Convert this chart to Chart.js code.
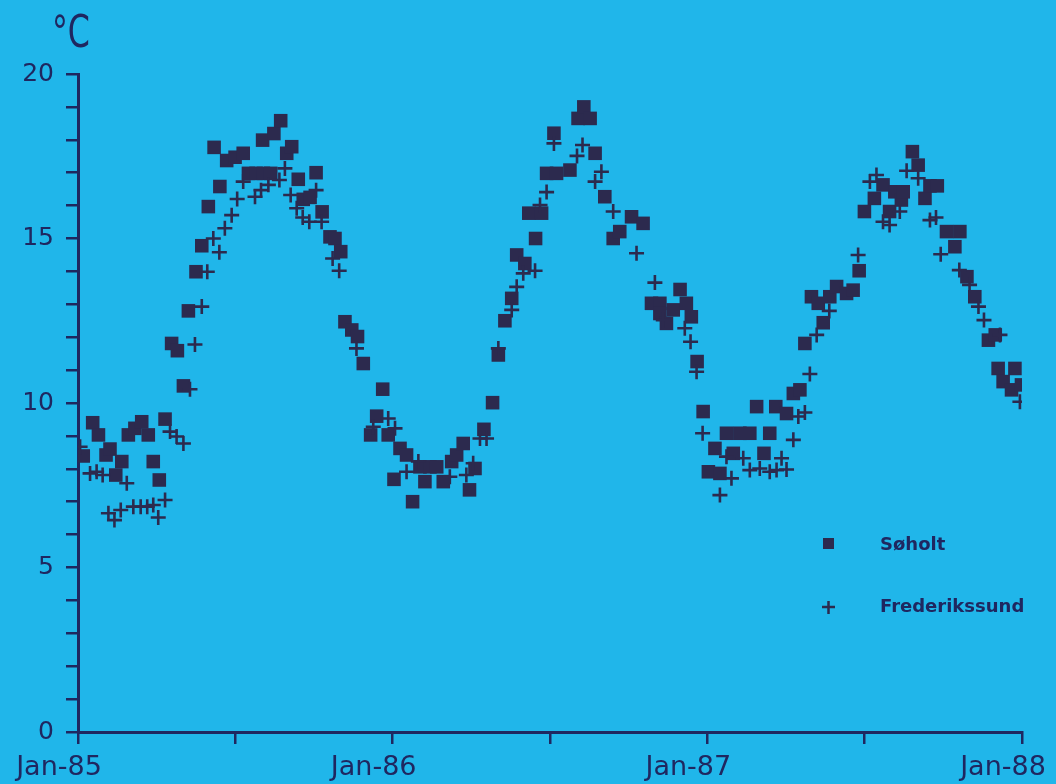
<!DOCTYPE html>
<html>
<head>
<meta charset="utf-8">
<script src="https://cdn.jsdelivr.net/npm/chart.js@4/dist/chart.umd.min.js"></script>
<style>
  html, body { margin: 0; padding: 0; background: rgb(32, 182, 234); }
  #wrap { width: 1056px; height: 784px; position: relative; }
</style>
</head>
<body>
<div id="wrap"><canvas id="c"></canvas></div>
<script>
// Months since January 1985 and water temperature (°C)
const sohMonths = [0.2, 0.56, 0.78, 1.07, 1.22, 1.44, 1.67, 1.92, 2.17, 2.43, 2.68, 2.87, 3.1, 3.32, 3.57, 3.79, 4.02, 4.21, 4.5, 4.72, 4.97, 5.19, 5.41, 5.67, 5.99, 6.3, 6.5, 6.79, 7.04, 7.07, 7.35, 7.47, 7.73, 7.96, 8.15, 8.4, 8.59, 8.85, 9.08, 9.31, 9.61, 9.8, 10.02, 10.18, 10.44, 10.66, 10.88, 11.16, 11.39, 11.62, 11.83, 12.05, 12.28, 12.53, 12.76, 13.04, 13.23, 13.42, 13.68, 13.93, 14.25, 14.44, 14.69, 14.93, 15.14, 15.48, 15.81, 16.03, 16.28, 16.54, 16.73, 17.04, 17.19, 17.45, 17.68, 17.87, 18.15, 18.25, 18.76, 19.07, 19.29, 19.53, 19.72, 20.09, 20.41, 20.66, 21.11, 21.55, 21.87, 22.19, 22.19, 22.44, 22.7, 22.96, 23.2, 23.39, 23.61, 23.84, 24.04, 24.29, 24.48, 24.73, 24.99, 25.24, 25.62, 25.88, 26.16, 26.38, 26.61, 27.02, 27.28, 27.53, 27.72, 27.97, 28.23, 28.42, 28.67, 28.93, 29.31, 29.56, 29.79, 29.99, 30.37, 30.7, 30.95, 31.15, 31.4, 31.47, 31.82, 32.04, 32.3, 32.49, 32.77, 33.12, 33.44, 33.63, 33.9, 34.2, 34.72, 34.98, 35.09, 35.28, 35.6, 35.73, 35.98];
const sohTemps = [8.39, 9.4, 9.03, 8.42, 8.6, 7.81, 8.22, 9.03, 9.23, 9.43, 9.03, 8.22, 7.66, 9.51, 11.81, 11.59, 10.52, 12.8, 13.99, 14.78, 15.97, 17.77, 16.58, 17.37, 17.47, 17.59, 16.98, 16.98, 17.99, 16.98, 16.98, 18.19, 18.58, 17.59, 17.79, 16.8, 16.19, 16.25, 17.0, 15.81, 15.05, 15.0, 14.6, 12.47, 12.22, 12.02, 11.2, 9.03, 9.6, 10.42, 9.03, 7.68, 8.62, 8.42, 7.0, 8.06, 7.61, 8.06, 8.06, 7.61, 8.22, 8.42, 8.77, 7.36, 8.01, 9.2, 10.01, 11.46, 12.5, 13.18, 14.5, 14.24, 15.77, 15.0, 15.77, 16.98, 18.2, 16.98, 17.08, 18.65, 19.0, 18.65, 17.59, 16.27, 15.0, 15.21, 15.66, 15.46, 13.03, 13.03, 12.72, 12.42, 12.83, 13.45, 13.03, 12.62, 11.26, 9.74, 7.91, 8.62, 7.86, 9.08, 8.47, 9.08, 9.08, 9.89, 8.47, 9.08, 9.89, 9.68, 10.29, 10.4, 11.81, 13.23, 13.03, 12.44, 13.23, 13.54, 13.33, 13.43, 14.02, 15.82, 16.22, 16.63, 15.82, 16.42, 16.17, 16.42, 17.64, 17.23, 16.22, 16.6, 16.6, 15.21, 14.75, 15.21, 13.84, 13.23, 11.91, 12.07, 11.05, 10.65, 10.4, 11.05, 10.55];

const freMonths = [0.08, 0.46, 0.71, 0.94, 1.16, 1.39, 1.63, 1.86, 2.11, 2.39, 2.64, 2.87, 3.06, 3.32, 3.51, 3.76, 4.02, 4.27, 4.46, 4.72, 4.93, 5.16, 5.39, 5.6, 5.86, 6.07, 6.3, 6.75, 6.98, 7.26, 7.68, 7.89, 8.11, 8.34, 8.57, 8.82, 9.08, 9.29, 9.71, 9.96, 10.62, 11.26, 11.83, 12.09, 12.53, 12.98, 14.18, 14.81, 15.07, 15.33, 15.58, 16.03, 16.54, 16.73, 16.98, 17.43, 17.62, 17.87, 18.15, 19.03, 19.24, 19.72, 19.96, 20.41, 21.3, 22.0, 22.32, 23.14, 23.36, 23.59, 23.82, 24.48, 24.73, 24.92, 25.37, 25.62, 26.0, 26.38, 26.64, 26.83, 27.02, 27.28, 27.47, 27.72, 27.91, 28.17, 28.65, 29.75, 30.2, 30.45, 30.7, 30.95, 31.34, 31.6, 32.04, 32.49, 32.72, 32.9, 33.61, 34.0, 34.34, 34.55, 35.16, 35.92];
const freTemps = [8.67, 7.86, 7.91, 7.81, 6.65, 6.44, 6.75, 7.56, 6.85, 6.85, 6.85, 6.9, 6.52, 7.05, 9.13, 8.98, 8.77, 10.42, 11.78, 12.93, 13.99, 15.0, 14.58, 15.31, 15.71, 16.2, 16.73, 16.27, 16.47, 16.63, 16.78, 17.13, 16.32, 15.92, 15.64, 15.51, 16.47, 15.51, 14.39, 14.02, 11.66, 9.28, 9.53, 9.23, 7.91, 8.22, 7.76, 7.81, 8.17, 8.92, 8.92, 11.66, 12.83, 13.53, 13.94, 14.02, 16.02, 16.41, 17.89, 17.51, 17.84, 16.73, 17.03, 15.82, 14.55, 13.66, 12.52, 12.27, 11.86, 10.95, 9.08, 7.2, 8.37, 7.71, 8.32, 7.96, 8.01, 7.91, 7.96, 8.32, 7.98, 8.88, 9.59, 9.71, 10.88, 12.07, 12.8, 14.5, 16.73, 16.93, 15.51, 15.41, 15.82, 17.06, 16.83, 15.56, 15.64, 14.52, 14.04, 13.59, 12.93, 12.52, 12.07, 10.04];

const xTickLabels = ['Jan-85', 'Jan-86', 'Jan-87', 'Jan-88'];
const seriesNames = ['Søholt', 'Frederikssund'];

const INK = '#1f2760';
const MARK = '#2c2a4e';
const toPoints = (xs, ys) => xs.map((x, i) => ({ x: x, y: ys[i] }));

// Legend and unit label drawn inside the plot
const annotations = {
  id: 'annotations',
  afterDraw(chart) {
    const ctx = chart.ctx;
    ctx.save();
    // unit label above the y axis
    ctx.fillStyle = INK;
    ctx.textBaseline = 'alphabetic';
    ctx.textAlign = 'left';
    ctx.translate(52, 47);
    ctx.scale(0.72, 1);
    ctx.font = '44px "DejaVu Sans"';
    ctx.fillText('°C', 0, 0);
    ctx.restore();

    ctx.save();
    ctx.font = 'bold 18px "DejaVu Sans"';
    ctx.textBaseline = 'middle';
    ctx.textAlign = 'left';
    ctx.fillStyle = INK;
    // square marker
    ctx.fillStyle = MARK;
    ctx.fillRect(823, 538, 11, 11);
    ctx.fillStyle = INK;
    ctx.fillText(seriesNames[0], 880, 545);
    // cross marker
    ctx.strokeStyle = MARK;
    ctx.lineWidth = 2.5;
    ctx.beginPath();
    ctx.moveTo(822, 607); ctx.lineTo(835, 607);
    ctx.moveTo(828.5, 601); ctx.lineTo(828.5, 614);
    ctx.stroke();
    ctx.fillText(seriesNames[1], 880, 607);
    ctx.restore();
  }
};

new Chart(document.getElementById('c'), {
  type: 'scatter',
  data: {
    datasets: [
      {
        label: seriesNames[1],
        data: toPoints(freMonths, freTemps),
        pointStyle: 'cross',
        pointRadius: 7.5,
        pointHoverRadius: 7.5,
        borderColor: MARK,
        backgroundColor: MARK,
        pointBorderWidth: 2.6,
        order: 0
      },
      {
        label: seriesNames[0],
        data: toPoints(sohMonths, sohTemps),
        pointStyle: 'rect',
        pointRadius: 9.6,
        pointHoverRadius: 9.6,
        borderColor: MARK,
        backgroundColor: MARK,
        pointBorderWidth: 0,
        order: 1
      }
    ]
  },
  options: {
    responsive: true,
    maintainAspectRatio: false,
    animation: false,
    events: [],
    layout: { padding: { top: 74, right: 34, left: 0, bottom: 0 } },
    plugins: { legend: { display: false }, tooltip: { enabled: false } },
    scales: {
      x: {
        type: 'linear',
        min: 0,
        max: 36,
        afterFit(scale) { scale.height = 52; scale.paddingLeft = 0; scale.paddingRight = 0; },
        border: { display: true, color: INK, width: 3 },
        grid: { drawOnChartArea: false, drawTicks: true, tickLength: 12, color: INK, lineWidth: 2.5 },
        ticks: {
          stepSize: 6,
          autoSkip: false,
          maxRotation: 0,
          padding: 8,
          labelOffset: -19,
          color: INK,
          font: { family: 'DejaVu Sans', size: 27 },
          callback: (v) => (v % 12 === 0 ? xTickLabels[v / 12] : '')
        }
      },
      y: {
        type: 'linear',
        min: 0,
        max: 20,
        afterFit(scale) { scale.width = 78; scale.paddingTop = 0; scale.paddingBottom = 0; },
        border: { display: true, color: INK, width: 3 },
        grid: { drawOnChartArea: false, drawTicks: true, tickLength: 12, color: INK, lineWidth: 2.5 },
        ticks: {
          stepSize: 1,
          autoSkip: false,
          padding: 12,
          color: INK,
          font: { family: 'DejaVu Sans', size: 25 },
          callback: (v) => (v % 5 === 0 ? String(v) : '')
        }
      }
    }
  },
  plugins: [annotations]
});
</script>
</body>
</html>
